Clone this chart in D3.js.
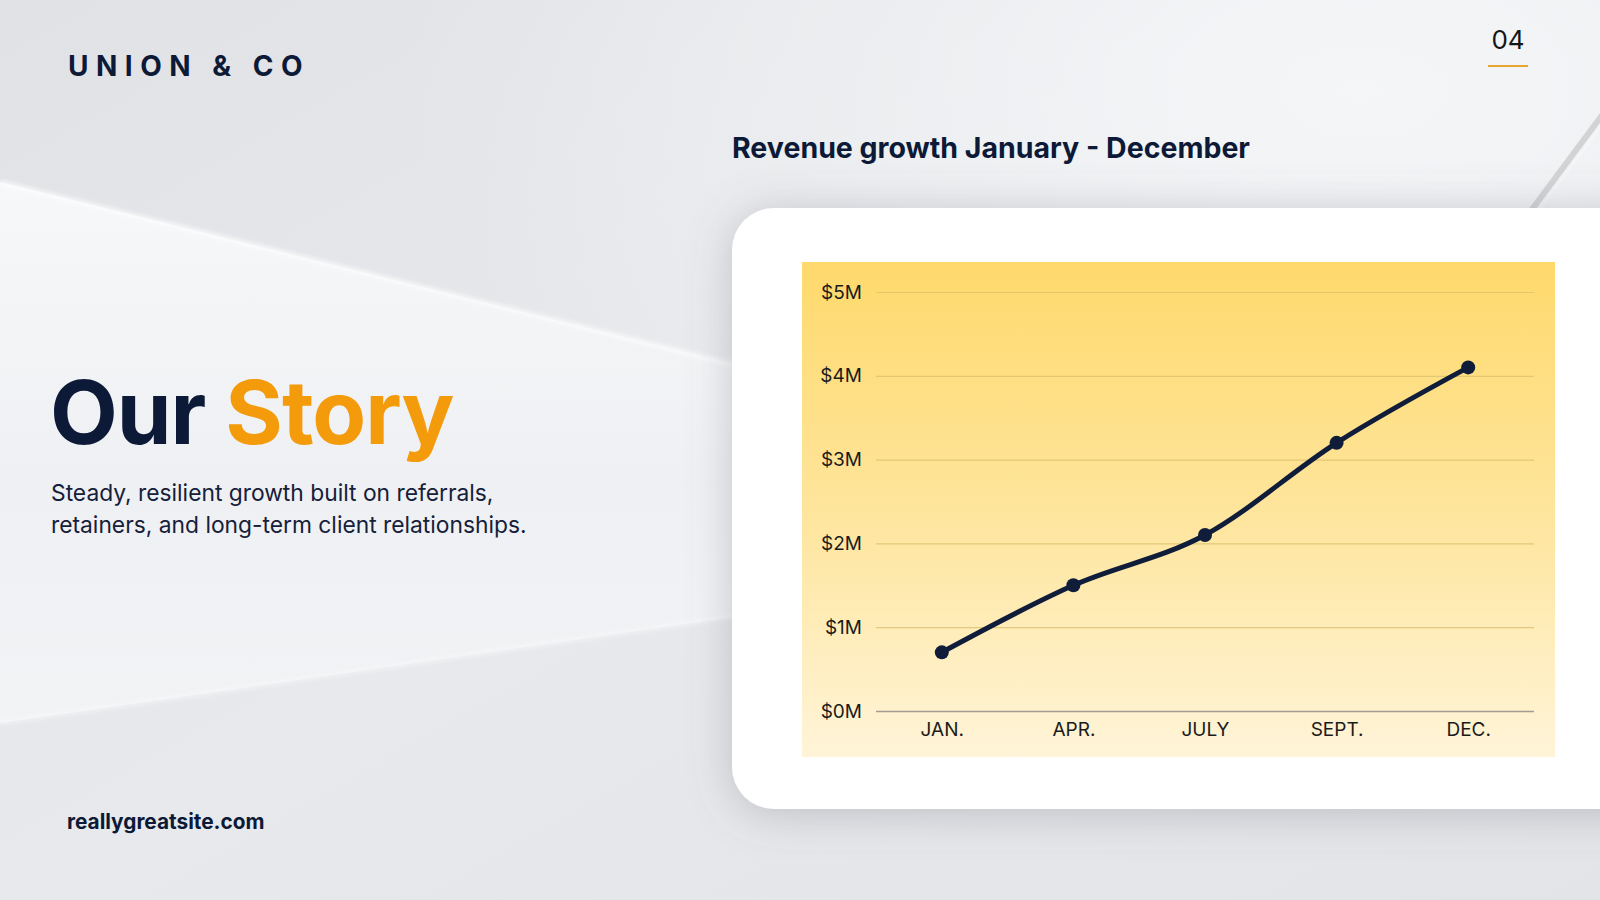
<!DOCTYPE html>
<html>
<head>
<meta charset="utf-8">
<script src="https://cdn.jsdelivr.net/npm/d3@7"></script>
<style>
  html, body { margin: 0; padding: 0; background: #e4e5e8; }
  svg { display: block; font-family: Inter, "Noto Sans", sans-serif; }
</style>
</head>
<body>
<svg id="slide" width="1600" height="900"></svg>
<script>
'use strict'

// chart data
const months = ['JAN.', 'APR.', 'JULY', 'SEPT.', 'DEC.']
const revenue = [0.7, 1.5, 2.1, 3.2, 4.1]
const yTicks = [0, 1, 2, 3, 4, 5]
const yTickLabels = ['$0M', '$1M', '$2M', '$3M', '$4M', '$5M']

const navy = '#0c1a37'
const orange = '#f49b0b'

const svg = d3.select('#slide')
const defs = svg.append('defs')

function linGrad(id, x1, y1, x2, y2, stops) {
	let g = defs.append('linearGradient').attr('id', id)
		.attr('x1', x1).attr('y1', y1).attr('x2', x2).attr('y2', y2)
	stops.forEach(function(s) {
		g.append('stop').attr('offset', s[0]).attr('stop-color', s[1])
	})
}

linGrad('bgGrad', 0, 0, 1, 1, [[0, '#e1e2e5'], [0.5, '#e8e9ec'], [1, '#e3e4e7']])
linGrad('bandGrad', 0, 0, 0, 1, [[0, '#f7f8f9'], [0.55, '#eff0f3'], [1, '#f2f3f5']])
linGrad('plotGrad', 0, 0, 0, 1, [[0, '#ffd96c'], [0.5, '#fee59c'], [1, '#fff4d8']])

let trGlow = defs.append('radialGradient').attr('id', 'trGlow')
	.attr('cx', 0.85).attr('cy', 0.1).attr('r', 0.6)
trGlow.append('stop').attr('offset', 0).attr('stop-color', '#f5f6f8').attr('stop-opacity', 1)
trGlow.append('stop').attr('offset', 1).attr('stop-color', '#f5f6f8').attr('stop-opacity', 0)

let shadow = defs.append('filter').attr('id', 'cardShadow')
	.attr('x', -0.2).attr('y', -0.3).attr('width', 1.4).attr('height', 1.6)
shadow.append('feDropShadow').attr('dx', 0).attr('dy', 4)
	.attr('stdDeviation', 22).attr('flood-color', '#70737c').attr('flood-opacity', 0.35)

let soft = defs.append('filter').attr('id', 'soft')
soft.append('feGaussianBlur').attr('stdDeviation', 2)

// background
svg.append('rect').attr('width', 1600).attr('height', 900).attr('fill', 'url(#bgGrad)')
svg.append('rect').attr('width', 1600).attr('height', 900).attr('fill', 'url(#trGlow)')
svg.append('path')
	.attr('d', 'M0,182L740,366L740,616L0,723Z')
	.attr('fill', 'url(#bandGrad)')
svg.append('path')
	.attr('d', 'M0,182L740,366')
	.attr('stroke', '#ffffff').attr('stroke-width', 3).attr('filter', 'url(#soft)')
svg.append('path')
	.attr('d', 'M0,723L740,616')
	.attr('stroke', '#fafbfc').attr('stroke-width', 2).attr('filter', 'url(#soft)')
svg.append('path')
	.attr('d', 'M1530,212L1606,110')
	.attr('stroke', '#d2d3d5').attr('stroke-width', 6)
svg.append('path')
	.attr('d', 'M1536,214L1610,114')
	.attr('stroke', '#f4f5f6').attr('stroke-width', 3)

// header texts
svg.append('text')
	.attr('x', 68).attr('y', 76)
	.attr('fill', navy)
	.attr('font-size', 28).attr('font-weight', 700)
	.attr('letter-spacing', 7.5)
	.text('UNION & CO')

svg.append('text')
	.attr('x', 1508).attr('y', 49)
	.attr('text-anchor', 'middle')
	.attr('fill', '#161616')
	.attr('font-size', 26)
	.text('04')
svg.append('rect')
	.attr('x', 1488).attr('y', 65).attr('width', 40).attr('height', 2)
	.attr('fill', '#e9a532')

let heading = svg.append('text')
	.attr('x', 50).attr('y', 444)
	.attr('font-size', 88).attr('font-weight', 700)
	.attr('letter-spacing', -1)
heading.append('tspan').attr('fill', navy).text('Our ')
heading.append('tspan').attr('fill', orange).text('Story')

let sub = svg.append('text')
	.attr('x', 51).attr('y', 501)
	.attr('fill', '#15203a')
	.attr('font-size', 22.8)
sub.append('tspan').attr('x', 51).text('Steady, resilient growth built on referrals,')
sub.append('tspan').attr('x', 51).attr('dy', 32).text('retainers, and long-term client relationships.')

svg.append('text')
	.attr('x', 67).attr('y', 829)
	.attr('fill', navy)
	.attr('font-size', 20.8).attr('font-weight', 700)
	.text('reallygreatsite.com')

svg.append('text')
	.attr('x', 732).attr('y', 158)
	.attr('fill', navy)
	.attr('font-size', 28.5).attr('font-weight', 700)
	.text('Revenue growth January - December')

// card
svg.append('rect')
	.attr('x', 732).attr('y', 208)
	.attr('width', 960).attr('height', 601)
	.attr('rx', 42)
	.attr('fill', '#ffffff')
	.attr('filter', 'url(#cardShadow)')

svg.append('rect')
	.attr('x', 802).attr('y', 262)
	.attr('width', 753).attr('height', 495)
	.attr('fill', 'url(#plotGrad)')

// scales
const x = d3.scalePoint().domain(months).range([876, 1534]).padding(0.5)
const y = d3.scaleLinear().domain([0, 5]).range([711, 292])

const chart = svg.append('g').attr('class', 'chart')

let yAxis = chart.append('g')
	.attr('transform', 'translate(876,0)')
	.call(d3.axisLeft(y).tickValues(yTicks)
		.tickFormat(function(d, i) { return yTickLabels[i] })
		.tickSize(-658).tickPadding(14))
yAxis.select('.domain').remove()
yAxis.selectAll('.tick line')
	.attr('stroke', function(d) { return d === 0 ? '#a29d8e' : '#dcc06e' })
	.attr('stroke-width', function(d) { return d === 0 ? 1.5 : 1.2 })
	.attr('stroke-opacity', function(d) { return d === 0 ? 1 : 0.8 })
yAxis.selectAll('.tick text')
	.attr('fill', '#1b1b1b')
	.attr('font-size', 19)
	.attr('font-family', 'Inter, sans-serif')

let xAxis = chart.append('g')
	.attr('transform', 'translate(0,711)')
	.call(d3.axisBottom(x).tickSize(0).tickPadding(12))
xAxis.select('.domain').remove()
xAxis.selectAll('.tick text')
	.attr('fill', '#1b1b1b')
	.attr('font-size', 19)
	.attr('font-family', 'Inter, sans-serif')

const line = d3.line()
	.x(function(d, i) { return x(months[i]) })
	.y(function(d) { return y(d) })
	.curve(d3.curveMonotoneX)

chart.append('path')
	.datum(revenue)
	.attr('d', line)
	.attr('fill', 'none')
	.attr('stroke', '#0f1d3a')
	.attr('stroke-width', 5)
	.attr('stroke-linecap', 'round')

chart.selectAll('circle.pt')
	.data(revenue)
	.join('circle')
	.attr('class', 'pt')
	.attr('cx', function(d, i) { return x(months[i]) })
	.attr('cy', function(d) { return y(d) })
	.attr('r', 7)
	.attr('fill', '#0f1d3a')
</script>
</body>
</html>
